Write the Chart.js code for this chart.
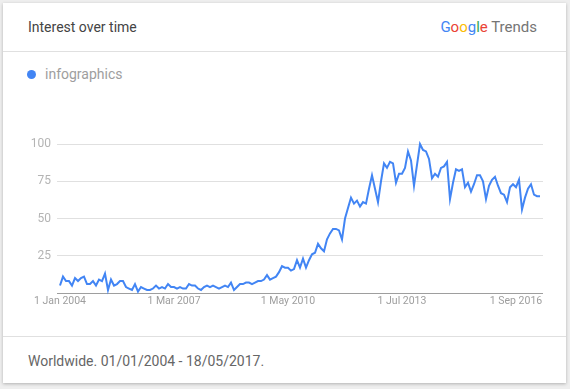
<!DOCTYPE html>
<html>
<head>
<meta charset="utf-8">
<script src="https://cdn.jsdelivr.net/npm/chart.js"></script>
<style>
  body { margin: 0; background: #eeeeee; font-family: Roboto, sans-serif; }
  #card {
    position: absolute; left: 3px; top: 3px; width: 563px; height: 380px;
    background: #fff; box-shadow: 0 1px 3px rgba(0,0,0,0.25);
  }
  #title { position: absolute; left: 25px; top: 16px; font-size: 14px; color: #444; }
  #brand { position: absolute; right: 29px; top: 15px; font-size: 15px; color: #757575; }
  .sep { position: absolute; left: 0; width: 563px; height: 1px; background: #e0e0e0; }
  #legend { position: absolute; left: 24px; top: 63px; font-size: 14px; color: #9e9e9e; }
  #legend span.dot {
    display: inline-block; width: 9px; height: 9px; border-radius: 50%;
    background: #4285f4; margin-right: 9px; vertical-align: 0px;
  }
  #footer { position: absolute; left: 25px; top: 350px; font-size: 14px; color: #666; }
  #wrap { position: absolute; left: 0; top: 120px; width: 570px; height: 200px; }
</style>
</head>
<body>
<div id="card">
  <div id="title">Interest over time</div>
  <div id="brand"><span style="color:#4285f4">G</span><span style="color:#ea4335">o</span><span style="color:#fbbc05">o</span><span style="color:#4285f4">g</span><span style="color:#34a853">l</span><span style="color:#ea4335">e</span> Trends</div>
  <div class="sep" style="top:48px"></div>
  <div id="legend"><span class="dot"></span>infographics</div>
  <div class="sep" style="top:333px"></div>
  <div id="footer">Worldwide. 01/01/2004 - 18/05/2017.</div>
</div>
<div id="wrap"><canvas id="chart"></canvas></div>
<script>
const seriesName = "infographics";
const monthNames = ["Jan","Feb","Mar","Apr","May","Jun","Jul","Aug","Sep","Oct","Nov","Dec"];
// monthly interest, Jan 2004 .. May 2017
const interest = [
  5, 11, 8, 8, 5, 10, 8, 10, 11, 6, 6, 8,
  5, 9, 8, 13, 2, 9, 5, 6, 8, 8, 4, 3,
  2, 6, 1, 4, 3, 2, 2, 3, 5, 3, 4, 3,
  6, 4, 4, 3, 4, 3, 3, 6, 5, 5, 3, 2,
  4, 5, 4, 5, 4, 3, 4, 5, 4, 7, 2, 4,
  6, 6, 7, 7, 6, 7, 8, 8, 9, 12, 9, 10,
  11, 14, 18, 17, 17, 15, 16, 22, 17, 23, 17, 22,
  26, 27, 33, 30, 28, 36, 40, 43, 43, 42, 36, 50,
  57, 64, 60, 62, 58, 61, 60, 70, 79, 70, 61, 75,
  87, 84, 88, 87, 74, 80, 80, 84, 95, 89, 72, 86,
  100, 96, 95, 90, 77, 80, 78, 84, 85, 88, 63, 74,
  83, 82, 83, 71, 74, 68, 73, 79, 79, 75, 63, 72,
  76, 78, 72, 67, 66, 61, 71, 73, 71, 76, 56, 64,
  70, 73, 66, 65, 65
];
const tickMonths = [0, 38, 76, 114, 152];
const yTicks = [25, 50, 75, 100];

const monthLabels = interest.map((v, i) => "1 " + monthNames[i % 12] + " " + (2004 + Math.floor(i / 12)));

new Chart(document.getElementById("chart"), {
  type: "line",
  data: {
    datasets: [{
      label: seriesName,
      data: interest.map((v, i) => ({ x: i, y: v })),
      borderColor: "#4285f4",
      borderWidth: 2,
      pointRadius: 0,
      tension: 0,
      clip: false
    }]
  },
  options: {
    responsive: true,
    maintainAspectRatio: false,
    animation: false,
    layout: { padding: { top: 24, right: 27, bottom: 0, left: 0 } },
    plugins: { legend: { display: false }, tooltip: { enabled: false } },
    scales: {
      x: {
        type: "linear",
        min: -1,
        max: 161,
        afterBuildTicks: s => { s.ticks = tickMonths.map(v => ({ value: v })); },
        afterFit: s => { s.height = 27; },
        grid: { display: false, drawTicks: false },
        border: { display: false },
        ticks: {
          autoSkip: false,
          maxRotation: 0,
          padding: 2,
          color: "#9e9e9e",
          font: { family: "Roboto", size: 10.5 },
          callback: v => monthLabels[v]
        }
      },
      y: {
        min: 0,
        max: 100,
        afterBuildTicks: s => { s.ticks = [0].concat(yTicks).map(v => ({ value: v })); },
        afterFit: s => { s.width = 57; },
        grid: {
          drawTicks: false,
          color: c => c.tick.value === 0 ? "#9e9e9e" : "#e0e0e0",
          lineWidth: 1
        },
        border: { display: false },
        ticks: {
          padding: 6,
          color: "#b4b4b4",
          font: { family: "Roboto", size: 12 },
          callback: v => v === 0 ? "" : v
        }
      }
    }
  }
});
</script>
</body>
</html>
